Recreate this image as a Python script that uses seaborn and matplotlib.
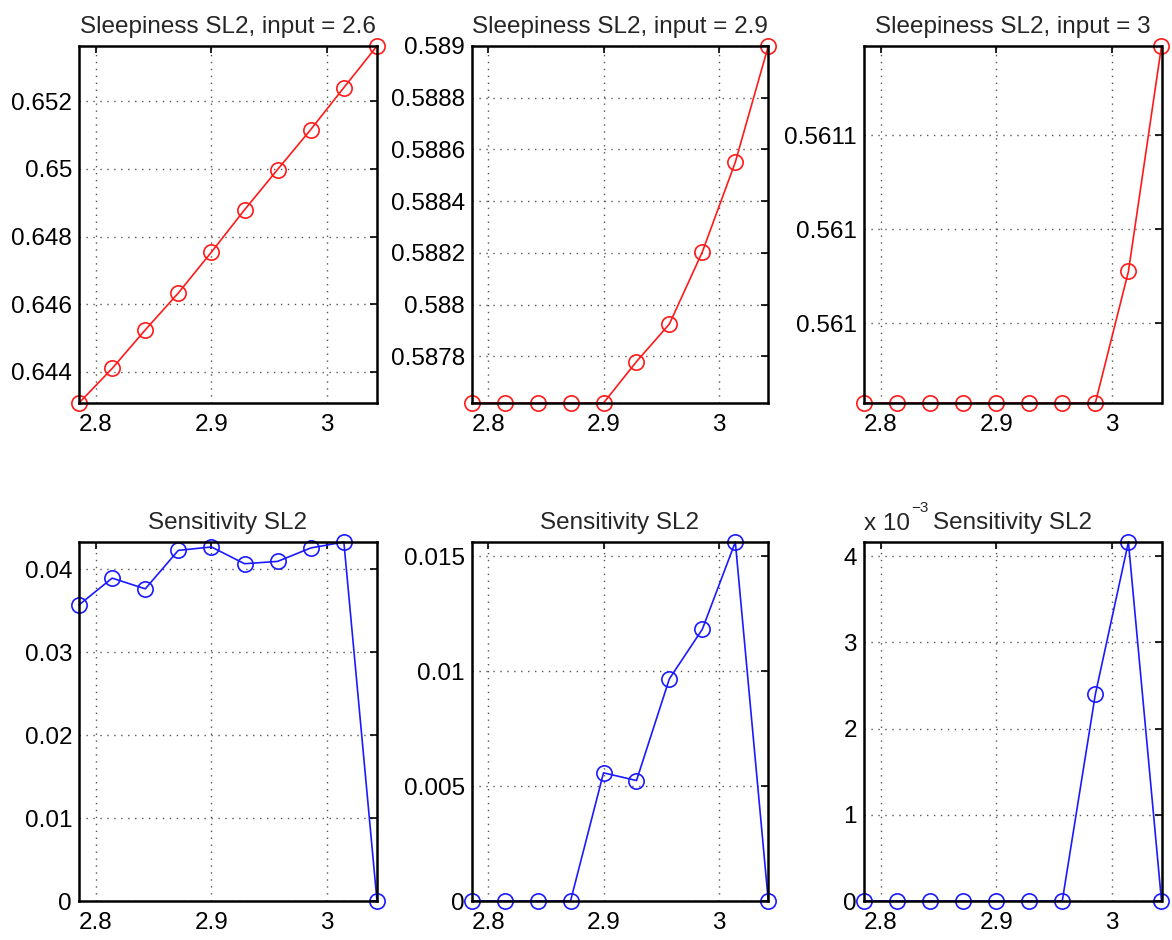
import numpy as np
import pandas as pd
import matplotlib
matplotlib.use("Agg")
import matplotlib.pyplot as plt
from matplotlib.ticker import FuncFormatter, FixedLocator
import seaborn as sns

# ---- data ----
x_vals = [2.7857, 2.8143, 2.8429, 2.8714, 2.9, 2.9286, 2.9571, 2.9857, 3.0143, 3.0429]

sleep_26 = [0.64308, 0.64410, 0.64524, 0.64633, 0.64754, 0.64879, 0.64998, 0.65116, 0.65240, 0.65363]
sleep_29 = [0.58762, 0.58762, 0.58762, 0.58762, 0.58762, 0.58778, 0.587925, 0.588204, 0.588551, 0.589]
sleep_30 = [0.561003, 0.561003, 0.561003, 0.561003, 0.561003, 0.561003, 0.561003, 0.561003, 0.561031, 0.561079]

sens_26 = [0.03572, 0.03895, 0.03766, 0.04230, 0.04271, 0.04069, 0.04097, 0.04259, 0.04331, 0.0]
sens_29 = [0.0, 0.0, 0.0, 0.0, 0.005577, 0.005241, 0.009664, 0.011825, 0.015620, 0.0]
sens_30 = [0.0, 0.0, 0.0, 0.0, 0.0, 0.0, 0.0, 0.002398, 0.004166, 0.0]

top_titles = ["Sleepiness SL2, input = 2.6", "Sleepiness SL2, input = 2.9", "Sleepiness SL2, input = 3"]
bottom_title = "Sensitivity SL2"
x_ticks = [2.8, 2.9, 3.0]
x_ticklabels = ["2.8", "2.9", "3"]

yticks_top = [
    [0.644, 0.646, 0.648, 0.650, 0.652],
    [0.5878, 0.5880, 0.5882, 0.5884, 0.5886, 0.5888, 0.5890],
    [0.56102, 0.56104, 0.56106],
]
yticks_bottom = [
    [0.0, 0.01, 0.02, 0.03, 0.04],
    [0.0, 0.005, 0.010, 0.015],
    [0.0, 0.001, 0.002, 0.003, 0.004],
]

sns.set_style("white")
plt.rcParams['font.family'] = ['Liberation Sans', 'DejaVu Sans']

fig = plt.figure(figsize=(11.72, 9.4), dpi=100)

lefts = [79 / 1172, 471.7 / 1172, 864 / 1172]
widths = [298 / 1172, 296.6 / 1172, 297.5 / 1172]
row_bottoms = [(940 - 403) / 940, (940 - 901) / 940]
row_heights = [357 / 940, 359 / 940]

FS = 17.5

def style_axes(ax, yticks, fmt):
    ax.set_xlim(x_vals[0], x_vals[-1])
    ax.xaxis.set_major_locator(FixedLocator(x_ticks))
    ax.set_xticklabels(x_ticklabels)
    ax.yaxis.set_major_locator(FixedLocator(yticks))
    ax.yaxis.set_major_formatter(FuncFormatter(fmt))
    ax.grid(True, color='#555555', linestyle=(0, (1, 4)), linewidth=1.0)
    for s in ax.spines.values():
        s.set_visible(True)
        s.set_color('black')
        s.set_linewidth(1.8)
    ax.tick_params(direction='in', length=5, width=1.2, top=True, right=True,
                   labelsize=FS, colors='black')
    ax.tick_params(axis='x', pad=8)
    ax.tick_params(axis='y', pad=5)
    ax.set_xlabel("")
    ax.set_ylabel("")

def draw(ax, yvals, color):
    df = pd.DataFrame({"x": x_vals, "y": yvals})
    sns.lineplot(data=df, x="x", y="y", ax=ax, color=color, linewidth=1.2,
                 marker='o', markersize=11, markerfacecolor='none',
                 markeredgecolor=color, markeredgewidth=1.2, clip_on=False,
                 estimator=None, sort=False)

top_data = [sleep_26, sleep_29, sleep_30]
bottom_data = [sens_26, sens_29, sens_30]

top_fmts = [lambda v, p: "%g" % round(v, 6),
            lambda v, p: "%g" % round(v, 6),
            lambda v, p: "%.4g" % v]
bottom_fmts = [lambda v, p: "%g" % round(v, 6),
               lambda v, p: "%g" % round(v, 6),
               lambda v, p: "%g" % round(v * 1000, 6)]

for i in range(3):
    ax = fig.add_axes([lefts[i], row_bottoms[0], widths[i], row_heights[0]])
    draw(ax, top_data[i], '#ff1a1a')
    ax.set_ylim(min(top_data[i]), max(top_data[i]))
    style_axes(ax, yticks_top[i], top_fmts[i])
    ax.set_title(top_titles[i], fontsize=FS, pad=9)

    ax = fig.add_axes([lefts[i], row_bottoms[1], widths[i], row_heights[1]])
    draw(ax, bottom_data[i], '#1a1aff')
    ax.set_ylim(0, max(bottom_data[i]))
    style_axes(ax, yticks_bottom[i], bottom_fmts[i])
    ax.set_title(bottom_title, fontsize=FS, pad=9)
    if i == 2:
        ax.text(0.0, 1.02, "x 10", transform=ax.transAxes,
                ha='left', va='bottom', fontsize=FS)
        ax.text(0.158, 1.075, "\u22123", transform=ax.transAxes,
                ha='left', va='bottom', fontsize=11)

fig.savefig("out.png", dpi=100)
